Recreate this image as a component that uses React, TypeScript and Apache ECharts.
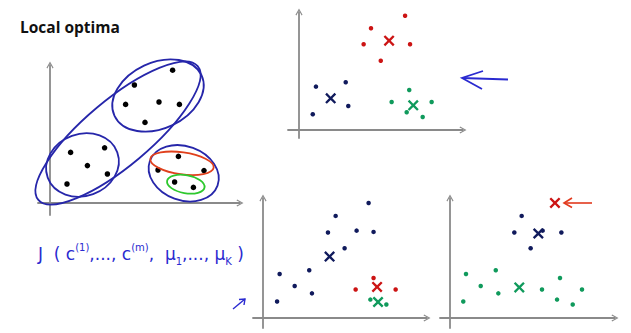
import React, { useEffect, useRef } from "react";
import * as echarts from "echarts";

const titleText = "Local optima";
const costFormula =
  "{m|J  ( c}{sup|(1)}{m|,..., c}{sup|(m)}{m|,  μ}{sub|1}{m|,..., μ}{sub|K}{m| )}";

// Panel 1: unlabelled training set
const p1Points = [
  [6.13, 6.64], [4.22, 5.9], [3.78, 4.93], [5.45, 5.05], [6.47, 4.93], [4.75, 4.03],
  [1.03, 2.53], [2.73, 2.76], [1.87, 1.87], [2.87, 1.45], [0.85, 0.95],
  [6.42, 2.33], [5.4, 1.65], [7.7, 1.62], [6.23, 1.05], [7.17, 0.78],
];
// Panel 1: hand-drawn cluster outlines (centre, radii in data units, tilt in degrees)
const p1Outlines = [
  { center: [3.4, 3.5], rx: 5.2, ry: 1.65, tilt: 40, color: "#2626aa" },
  { center: [5.4, 5.375], rx: 2.4, ry: 1.65, tilt: 25, color: "#2626aa" },
  { center: [1.625, 1.9], rx: 1.85, ry: 1.55, tilt: 20, color: "#2626aa" },
  { center: [6.685, 1.485], rx: 1.8, ry: 1.35, tilt: -20, color: "#2626aa" },
  { center: [6.6, 1.985], rx: 1.6, ry: 0.55, tilt: -8, color: "#e0401c" },
  { center: [6.79, 0.94], rx: 0.95, ry: 0.45, tilt: -10, color: "#2ec82e" },
];

// Panel 2: good clustering
const p2Red = [[6.63, 7.14], [4.5, 6.36], [4.04, 5.36], [6.94, 5.36], [5.11, 4.33]];
const p2Navy = [[1.06, 2.71], [2.92, 2.98], [3.08, 1.5], [0.86, 0.98]];
const p2Green = [[6.89, 2.5], [5.79, 1.75], [8.29, 1.75], [6.73, 1.11], [7.73, 0.81]];
const p2CentroidRed = [[5.63, 5.58]];
const p2CentroidNavy = [[1.98, 1.98]];
const p2CentroidGreen = [[7.14, 1.54]];

// Panel 3: local optimum (two clusters merged)
const p3Navy = [
  [6.6, 7.19], [4.54, 6.38], [4.06, 5.34], [5.85, 5.46], [6.91, 5.38], [5.1, 4.36],
  [1.04, 2.75], [2.89, 2.98], [1.98, 2.0], [3.06, 1.54], [0.88, 1.03],
];
const p3Red = [[6.91, 2.5], [5.79, 1.78], [8.29, 1.78]];
const p3Green = [[6.71, 1.15], [7.71, 0.84]];
const p3CentroidNavy = [[4.16, 3.84]];
const p3CentroidRed = [[7.13, 1.94]];
const p3CentroidGreen = [[7.19, 1.0]];

// Panel 4: local optimum (one centroid on a single point)
const p4Navy = [[4.48, 6.38], [4.02, 5.34], [5.79, 5.46], [6.96, 5.34], [5.04, 4.36]];
const p4Green = [
  [1.0, 2.75], [2.86, 2.98], [1.92, 2.0], [3.02, 1.54], [0.83, 1.03],
  [5.75, 1.78], [6.875, 2.5], [8.25, 1.78], [6.69, 1.15], [7.67, 0.84],
];
const p4CentroidNavy = [[5.52, 5.28]];
const p4CentroidRed = [[6.56, 7.19]];
const p4CentroidGreen = [[4.33, 1.91]];

const NAVY = "#101a5c";
const RED = "#cc1414";
const GREEN = "#109a5c";
const PEN_BLUE = "#2a2ad0";
const PEN_RED = "#e23a1e";
const AXIS = "#8a8a8a";

const CHEVRON = "path://M5,0 L10,9 L8.7,9.9 L5,2.8 L1.3,9.9 L0,9 Z";
const CROSS =
  "path://M1.5,0 L5,3.5 L8.5,0 L10,1.5 L6.5,5 L10,8.5 L8.5,10 L5,6.5 L1.5,10 L0,8.5 L3.5,5 L0,1.5 Z";

const grids = [
  { left: 38, top: 65, width: 202, height: 150 },
  { left: 288, top: 12, width: 175, height: 126 },
  { left: 253, top: 198, width: 174, height: 130 },
  { left: 440, top: 198, width: 175, height: 130 },
];
const ranges = [
  { x: [-0.6, 9.5], y: [-0.6, 6.9] },
  { x: [-0.6875, 10.25], y: [-0.5, 7.375] },
  { x: [-0.625, 10.25], y: [-0.625, 7.5] },
  { x: [-0.625, 10.3125], y: [-0.625, 7.5] },
];

function axisBase(gridIndex: number, min: number, max: number) {
  return {
    type: "value",
    gridIndex,
    min,
    max,
    axisLine: {
      show: true,
      onZero: true,
      symbol: ["none", CHEVRON],
      symbolSize: [9, 7],
      lineStyle: { color: AXIS, width: 1.8 },
    },
    axisTick: { show: false },
    axisLabel: { show: false },
    splitLine: { show: false },
  };
}

function dots(data: number[][], g: number, color: string, size: number) {
  return {
    type: "scatter",
    xAxisIndex: g,
    yAxisIndex: g,
    data,
    symbol: "circle",
    symbolSize: size,
    itemStyle: { color, opacity: 1 },
    silent: true,
    z: 2,
  };
}

function cross(data: number[][], g: number, color: string) {
  return {
    type: "scatter",
    xAxisIndex: g,
    yAxisIndex: g,
    data,
    symbol: CROSS,
    symbolSize: 11,
    itemStyle: { color, opacity: 1 },
    silent: true,
    z: 3,
  };
}

const staticGraphics: any[] = [
  {
    type: "text",
    id: "title",
    x: 20,
    y: 26.5,
    style: {
      text: titleText,
      fontFamily: "Open Sans",
      fontWeight: "bold",
      fontSize: 15.5,
      fill: "#111",
      verticalAlign: "middle",
    },
  },
  {
    type: "text",
    id: "formula",
    x: 38,
    y: 254,
    style: {
      text: costFormula,
      fill: PEN_BLUE,
      verticalAlign: "middle",
      fontFamily: "DejaVu Sans",
      rich: {
        m: { fontSize: 17, lineHeight: 24, fill: PEN_BLUE, fontFamily: "DejaVu Sans", verticalAlign: "middle" },
        sup: { fontSize: 10, lineHeight: 24, fill: PEN_BLUE, fontFamily: "DejaVu Sans", verticalAlign: "top" },
        sub: { fontSize: 10, lineHeight: 24, fill: PEN_BLUE, fontFamily: "DejaVu Sans", verticalAlign: "bottom" },
      },
    },
  },
  // blue arrow pointing at panel 2
  {
    type: "polyline",
    id: "arrowBlueShaft",
    shape: { points: [[508, 79.5], [462, 78]] },
    style: { stroke: PEN_BLUE, lineWidth: 1.8, fill: "none" },
  },
  {
    type: "polyline",
    id: "arrowBlueHead",
    shape: { points: [[483, 71], [462, 78], [482, 89]] },
    style: { stroke: PEN_BLUE, lineWidth: 1.8, fill: "none" },
  },
  // small blue arrow by panel 3
  {
    type: "polyline",
    id: "arrowSmall",
    shape: { points: [[233, 309], [245, 299]] },
    style: { stroke: PEN_BLUE, lineWidth: 1.4, fill: "none" },
  },
  {
    type: "polyline",
    id: "arrowSmallHead",
    shape: { points: [[239, 299.5], [245, 299], [244, 305]] },
    style: { stroke: PEN_BLUE, lineWidth: 1.4, fill: "none" },
  },
  // red arrow pointing at the stranded centroid in panel 4
  {
    type: "polyline",
    id: "arrowRedShaft",
    shape: { points: [[592, 203], [564, 203]] },
    style: { stroke: PEN_RED, lineWidth: 1.6, fill: "none" },
  },
  {
    type: "polyline",
    id: "arrowRedHead",
    shape: { points: [[572, 198], [564, 203], [572, 207.5]] },
    style: { stroke: PEN_RED, lineWidth: 1.6, fill: "none" },
  },
];

export default function App() {
  const ref = useRef<HTMLDivElement>(null);

  useEffect(() => {
    if (!ref.current) return;
    const chart = echarts.init(ref.current, null, { renderer: "svg" });
    const option: any = {
      animation: false,
      backgroundColor: "#ffffff",
      grid: grids.map((g) => ({ ...g, containLabel: false })),
      xAxis: ranges.map((r, i) => axisBase(i, r.x[0], r.x[1])),
      yAxis: ranges.map((r, i) => axisBase(i, r.y[0], r.y[1])),
      series: [
        dots(p1Points, 0, "#000000", 5.5),
        dots(p2Red, 1, RED, 4.5),
        dots(p2Navy, 1, NAVY, 4.5),
        dots(p2Green, 1, GREEN, 4.5),
        cross(p2CentroidRed, 1, RED),
        cross(p2CentroidNavy, 1, NAVY),
        cross(p2CentroidGreen, 1, GREEN),
        dots(p3Navy, 2, NAVY, 4.5),
        dots(p3Red, 2, RED, 4.5),
        dots(p3Green, 2, GREEN, 4.5),
        cross(p3CentroidNavy, 2, NAVY),
        cross(p3CentroidRed, 2, RED),
        cross(p3CentroidGreen, 2, GREEN),
        dots(p4Navy, 3, NAVY, 4.5),
        dots(p4Green, 3, GREEN, 4.5),
        cross(p4CentroidNavy, 3, NAVY),
        cross(p4CentroidRed, 3, RED),
        cross(p4CentroidGreen, 3, GREEN),
      ],
    };
    chart.setOption(option);

    const o = chart.convertToPixel({ gridIndex: 0 } as any, [0, 0]) as unknown as number[];
    const u = chart.convertToPixel({ gridIndex: 0 } as any, [1, 1]) as unknown as number[];
    const sx = u[0] - o[0];
    const sy = o[1] - u[1];
    const ellipses = p1Outlines.map((e, i) => {
      const c = chart.convertToPixel({ gridIndex: 0 } as any, e.center) as unknown as number[];
      return {
        type: "ellipse",
        id: "outline" + i,
        x: c[0],
        y: c[1],
        rotation: (e.tilt * Math.PI) / 180,
        shape: { cx: 0, cy: 0, rx: e.rx * sx, ry: e.ry * sy },
        style: { fill: "none", stroke: e.color, lineWidth: 1.8 },
        silent: true,
        z: 5,
      };
    });
    chart.setOption({ graphic: [...staticGraphics, ...ellipses] });

    return () => chart.dispose();
  }, []);

  return (
    <div
      ref={ref}
      style={{ position: "fixed", left: 0, top: 0, width: 631, height: 333, background: "#fff" }}
    />
  );
}
